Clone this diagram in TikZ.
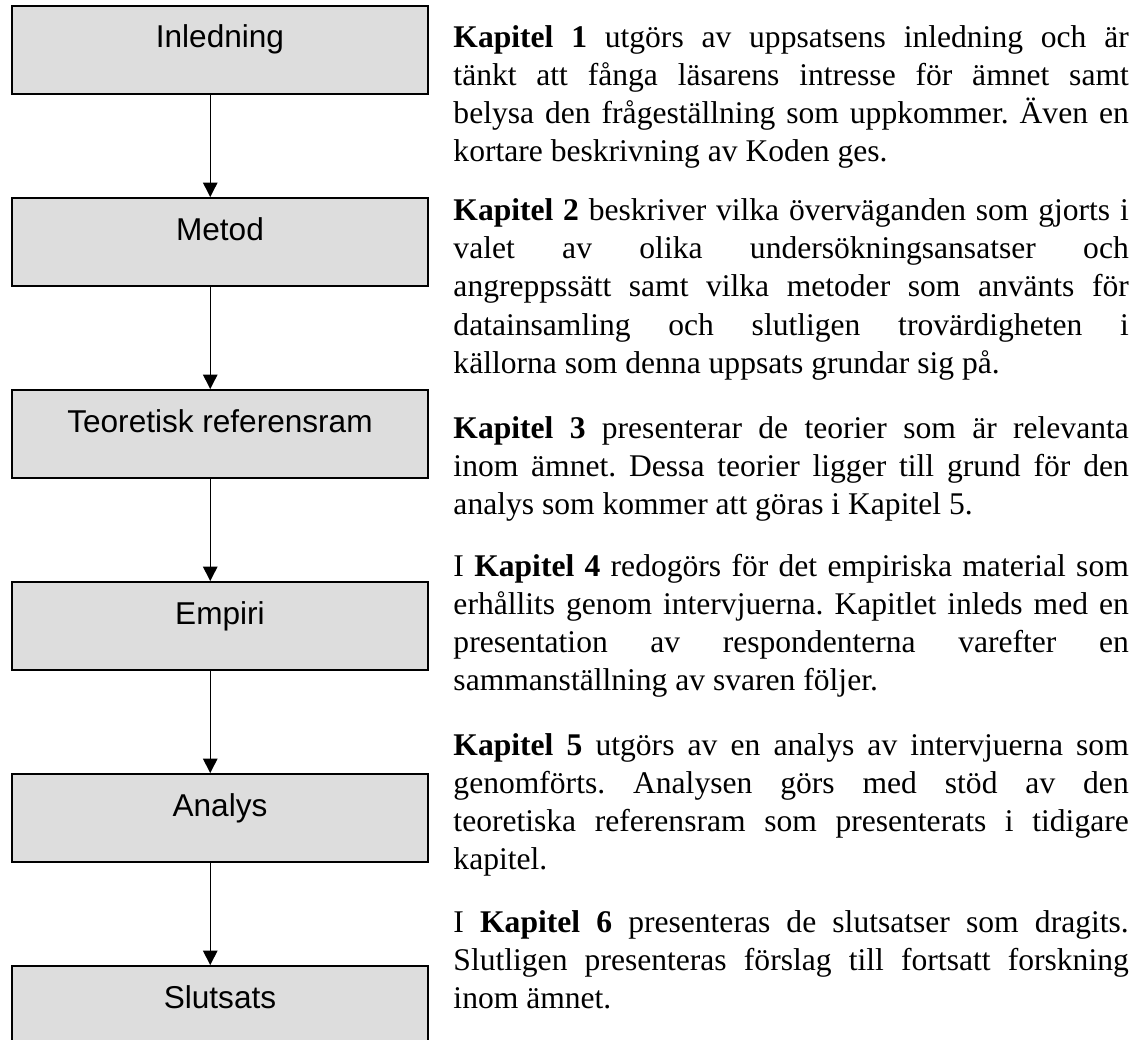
\documentclass[tikz,border=0pt]{standalone}
\usepackage{fontspec}
\setmainfont{Liberation Serif}
\newfontfamily\arialfont{Liberation Sans}
\usepackage{xcolor}
\usepackage{tikz}
\usetikzlibrary{positioning}
\usetikzlibrary{arrows.meta}

\definecolor{boxgray}{RGB}{221,221,221}
\frenchspacing

\begin{document}
\begin{tikzpicture}[
        stage/.style={rectangle, draw=black, line width=0.75pt, fill=boxgray, minimum width=5.556cm, inner xsep=0pt, inner ysep=0pt, text height=15.96pt, text depth=17.48pt, font=\arialfont\fontsize{12}{14}\selectfont},
        chapter/.style={anchor=north west, inner sep=0pt, text width=9.02cm, align=justify, font=\fontsize{12}{14.5}\selectfont},
        flow/.style={-{Triangle[length=5.5pt,width=5.5pt]}, line width=0.5pt},
        node distance=1.363cm
    ]
    \useasboundingbox (0,0) rectangle (15.16,-13.89);

    \node[stage, anchor=north west] (b_1) at (0.147,-0.067) {Inledning};
    \node[stage] (b_2) [below=of b_1] {Metod};
    \node[stage] (b_3) [below=of b_2] {Teoretisk referensram};
    \node[stage] (b_4) [below=of b_3] {Empiri};
    \node[stage] (b_5) [below=of b_4] {Analys};
    \node[stage] (b_6) [below=of b_5] {Slutsats};

    \draw[flow] ([xshift=-0.13cm]b_1.south) to ([xshift=-0.13cm]b_2.north);
    \draw[flow] ([xshift=-0.13cm]b_2.south) to ([xshift=-0.13cm]b_3.north);
    \draw[flow] ([xshift=-0.13cm]b_3.south) to ([xshift=-0.13cm]b_4.north);
    \draw[flow] ([xshift=-0.13cm]b_4.south) to ([xshift=-0.13cm]b_5.north);
    \draw[flow] ([xshift=-0.13cm]b_5.south) to ([xshift=-0.13cm]b_6.north);

    \node[chapter] (t_1) at (6.05,-0.271) {\strut\textbf{Kapitel 1} utgörs av uppsatsens inledning och är\linebreak tänkt att fånga läsarens intresse för ämnet samt\linebreak belysa den frågeställning som uppkommer. Även en\linebreak kortare beskrivning av Koden ges.};
    \node[chapter] (t_2) at (6.05,-2.582) {\strut\textbf{Kapitel 2} beskriver vilka överväganden som gjorts i\linebreak valet av olika undersökningsansatser och\linebreak angreppssätt samt vilka metoder som använts för\linebreak datainsamling och slutligen trovärdigheten i\linebreak källorna som denna uppsats grundar sig på.};
    \node[chapter] (t_3) at (6.05,-5.493) {\strut\textbf{Kapitel 3} presenterar de teorier som är relevanta\linebreak inom ämnet. Dessa teorier ligger till grund för den\linebreak analys som kommer att göras i Kapitel 5.};
    \node[chapter] (t_4) at (6.05,-7.336) {\strut I \textbf{Kapitel 4} redogörs för det empiriska material som\linebreak erhållits genom intervjuerna. Kapitlet inleds med en\linebreak presentation av respondenterna varefter en\linebreak sammanställning av svaren följer.};
    \node[chapter] (t_5) at (6.05,-9.727) {\strut\textbf{Kapitel 5} utgörs av en analys av intervjuerna som\linebreak genomförts. Analysen görs med stöd av den\linebreak teoretiska referensram som presenterats i tidigare\linebreak kapitel.};
    \node[chapter] (t_6) at (6.05,-12.091) {\strut I \textbf{Kapitel 6} presenteras de slutsatser som dragits.\linebreak Slutligen presenteras förslag till fortsatt forskning\linebreak inom ämnet.};
\end{tikzpicture}
\end{document}
